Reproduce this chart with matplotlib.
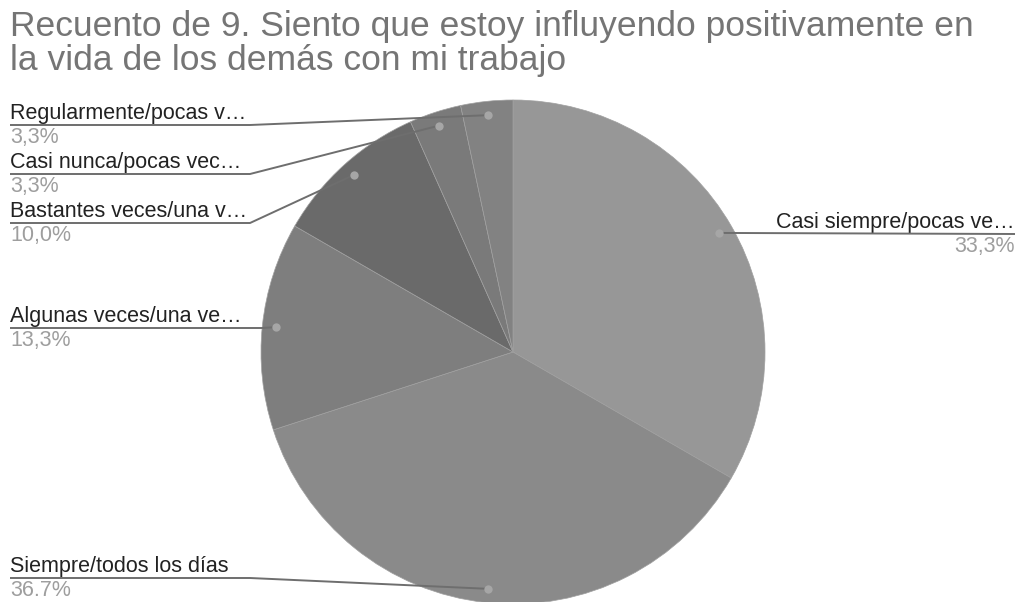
import numpy as np
import matplotlib.pyplot as plt

plt.rcParams['font.family'] = ['Liberation Sans', 'DejaVu Sans']

# respuestas (conteo sobre 30 encuestados)
categorias = ['Casi siempre/pocas ve…', 'Siempre/todos los días',
              'Algunas veces/una ve…', 'Bastantes veces/una v…',
              'Casi nunca/pocas vec…', 'Regularmente/pocas v…']
conteos = [10, 11, 4, 3, 1, 1]
porcentajes = ['33,3%', '36.7%', '13,3%', '10,0%', '3,3%', '3,3%']
colores = ['#979797', '#8a8a8a', '#7e7e7e', '#6a6a6a', '#7a7a7a', '#828282']

titulo = 'Recuento de 9. Siento que estoy influyendo positivamente en\nla vida de los demás con mi trabajo'

W, H = 1019, 602
fig = plt.figure(figsize=(W / 100, H / 100), dpi=100)
ax = fig.add_axes([0, 0, 1, 1])

# pie in pixel units (y measured from the bottom)
cx, cy, R = 513, H - 352, 252
ax.pie(conteos, colors=colores, startangle=90, counterclock=False,
       center=(cx, cy), radius=R,
       wedgeprops=dict(edgecolor='#a0a0a0', linewidth=0.5))
ax.set_xlim(0, W)
ax.set_ylim(0, H)
ax.set_aspect('equal')
ax.axis('off')

# mid angle of every slice -> dot inside the wedge
frac = np.array(conteos) / sum(conteos)
inicio = np.concatenate([[0], np.cumsum(frac)[:-1]])
medio = np.deg2rad(90 - 360 * (inicio + frac / 2))
dot_x = cx + 0.945 * R * np.cos(medio)
dot_y = cy + 0.945 * R * np.sin(medio)

# label rows: (underline y from top, end of underline x, side)
filas = [(234, 724, 'right'), (578, 250, 'left'), (328, 262, 'left'),
         (223, 250, 'left'), (174, 250, 'left'), (125, 250, 'left')]

fs = 15.5
for i, (uy, ux, lado) in enumerate(filas):
    y = H - uy
    ax.plot(dot_x[i], dot_y[i], 'o', ms=6, color='#a6a6a6', mec='none', zorder=5)
    if lado == 'left':
        xt, ha = 10, 'left'
        ax.plot([10, ux, dot_x[i]], [y, y, dot_y[i]], color='#6e6e6e', lw=1.4,
                solid_capstyle='butt', zorder=4)
    else:
        xt, ha = 1015, 'right'
        ax.plot([dot_x[i], 1015], [dot_y[i], y], color='#6e6e6e', lw=1.4,
                solid_capstyle='butt', zorder=4)
    ax.text(xt, y + 6, categorias[i], fontsize=fs, color='#222222',
            ha=ha, va='baseline')
    ax.text(xt, y - 18, porcentajes[i], fontsize=fs, color='#9e9e9e',
            ha=ha, va='baseline')

ax.text(10, H - 10, titulo, fontsize=25.5, color='#757575', ha='left', va='top',
        linespacing=1.02)

fig.savefig('out.png', dpi=100, facecolor='white')
